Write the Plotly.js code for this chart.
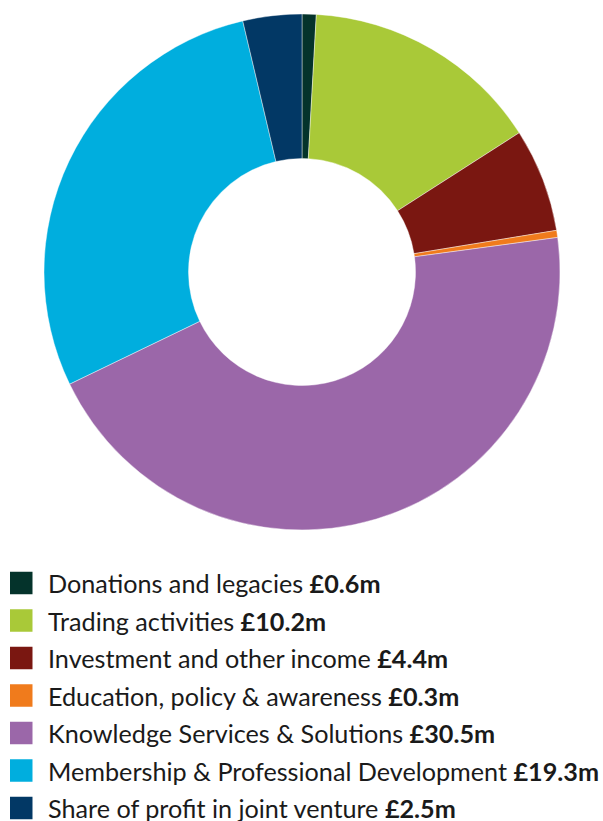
<!DOCTYPE html>
<html>
<head>
<meta charset="utf-8">
<script src="https://cdn.plot.ly/plotly-3.0.1.min.js"></script>
<style>html,body{margin:0;padding:0;background:#fff;}#chart{width:603px;height:821px;}</style>
</head>
<body>
<div id="chart"></div>
<script>
const categories = [
  "Donations and legacies",
  "Trading activities",
  "Investment and other income",
  "Education, policy & awareness",
  "Knowledge Services & Solutions",
  "Membership & Professional Development",
  "Share of profit in joint venture"
];
const values = [0.6, 10.2, 4.4, 0.3, 30.5, 19.3, 2.5];
const valueLabels = ["£0.6m", "£10.2m", "£4.4m", "£0.3m", "£30.5m", "£19.3m", "£2.5m"];
const colors = ["#04332b", "#a9c938", "#7a1711", "#f07b1c", "#9b67a9", "#00aede", "#023865"];

const W = 603, H = 821;
const cx = 302, cy = 272, R = 258;

const trace = {
  type: "pie",
  labels: categories,
  values: values,
  sort: false,
  direction: "clockwise",
  rotation: 0,
  hole: 0.44,
  textinfo: "none",
  hoverinfo: "label+value",
  marker: { colors: colors, line: { color: "rgba(255,255,255,0.7)", width: 0.6 } },
  domain: { x: [(cx - R) / W, (cx + R) / W], y: [1 - (cy + R) / H, 1 - (cy - R) / H] },
  showlegend: false
};

const rowTop = 583, rowGap = 37.5, sq = 22.5;
const shapes = [], annotations = [];
categories.forEach((c, i) => {
  const yc = rowTop + i * rowGap;
  shapes.push({
    type: "rect", xref: "paper", yref: "paper",
    x0: 10 / W, x1: (10 + sq) / W,
    y0: 1 - (yc + sq / 2) / H, y1: 1 - (yc - sq / 2) / H,
    fillcolor: colors[i], line: { width: 0 }
  });
  annotations.push({
    xref: "paper", yref: "paper", x: 46 / W, y: 1 - yc / H,
    xanchor: "left", yanchor: "middle", showarrow: false,
    text: c + " <b>" + valueLabels[i] + "</b>",
    font: { family: "Lato, sans-serif", size: 25.2, color: "#1a1a1a" }
  });
});

Plotly.newPlot("chart", [trace], {
  width: W, height: H,
  margin: { l: 0, r: 0, t: 0, b: 0 },
  paper_bgcolor: "#ffffff",
  showlegend: false,
  shapes: shapes,
  annotations: annotations
}, { staticPlot: true });
</script>
</body>
</html>
